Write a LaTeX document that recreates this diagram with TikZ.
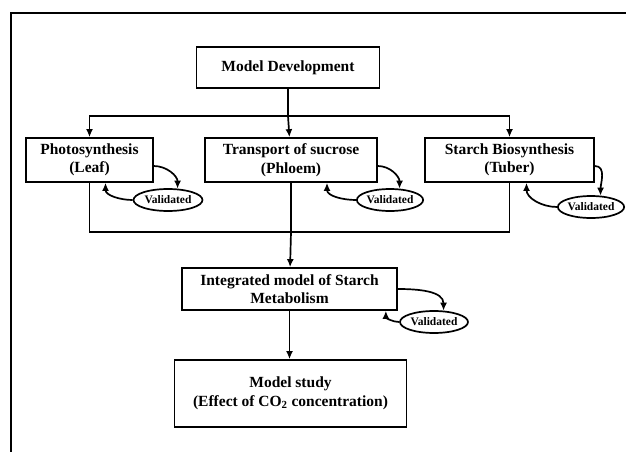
\documentclass[tikz,border=0pt]{standalone}
\usepackage{fontspec}
\setmainfont{Liberation Serif}
\usetikzlibrary{positioning, arrows.meta, shapes.geometric}

\begin{document}
\begin{tikzpicture}[x=1pt, y=-1pt, line width=1.7pt,
    box/.style={draw, rectangle, align=center, inner sep=0pt,
        font=\fontsize{15.5}{18.5}\selectfont\bfseries},
    valid/.style={draw, ellipse, inner sep=0pt, minimum height=22pt,
        font=\fontsize{11.5}{13}\selectfont\bfseries},
    arr/.style={-{Latex[length=8pt,width=7pt]}}]
    \useasboundingbox (0,0) rectangle (626,452);
    \draw (11,452) -- (11,13) -- (626,13);

    \node[box, minimum width=183pt, minimum height=41pt] (dev) at (288,67.5) {Model Development};

    \node[box, minimum width=127pt, minimum height=44pt] (photo) at (89.5,160) {Photosynthesis\\(Leaf)};
    \node[box, minimum width=172pt, minimum height=44pt] (trans) at (291,160) {Transport of sucrose\\(Phloem)};
    \node[box, minimum width=169pt, minimum height=44pt] (starch) at (509.5,160) {Starch Biosynthesis\\(Tuber)};

    \node[box, minimum width=215pt, minimum height=42pt] (integ) at (289.5,289) {Integrated model of Starch\\Metabolism};
    \node[box, minimum width=232pt, minimum height=67pt] (study) at (290.5,393.5) {Model study\\(Effect of CO\textsubscript{2} concentration)};

    \node[valid, minimum width=69pt] (val1) at (168,200) {Validated};
    \node[valid, minimum width=64pt] (val2) at (390,200) {Validated};
    \node[valid, minimum width=66pt] (val3) at (591,207) {Validated};
    \node[valid, minimum width=68pt] (val4) at (434,322) {Validated};

    % split and merge
    \coordinate (split) at (dev.south |- 0,116);
    \coordinate (merge) at (trans.south |- 0,232);
    \draw (dev) -- (split);
    \draw[arr] (split) -| (photo);
    \draw[arr] (split) -- (trans);
    \draw[arr] (split) -| (starch);
    \draw (photo) |- (merge);
    \draw (starch) |- (merge);
    \draw (trans) -- (merge);
    \draw[arr] (merge) -- (integ);
    \draw[arr] (integ.south) -- (integ.south |- study.north);

    % validation loops
    \draw[arr] ([yshift=-6pt]photo.east) to[out=0, in=90] (val1.50);
    \draw[arr] (val1.west) to[out=180, in=-90] ([xshift=16pt]photo.south);
    \draw[arr] ([yshift=-6pt]trans.east) to[out=0, in=90] (val2.50);
    \draw[arr] (val2.west) to[out=180, in=-90] ([xshift=36pt]trans.south);
    \draw[arr] ([yshift=-6pt]starch.east) to[out=0, in=90] (val3.50);
    \draw[arr] (val3.west) to[out=180, in=-90] ([xshift=17pt]starch.south);
    \draw[arr] (integ.east) to[out=0, in=90] (val4.50);
    \draw[arr] (val4.west) to[out=180, in=-90] ([xshift=-12pt]integ.south east);
\end{tikzpicture}
\end{document}
